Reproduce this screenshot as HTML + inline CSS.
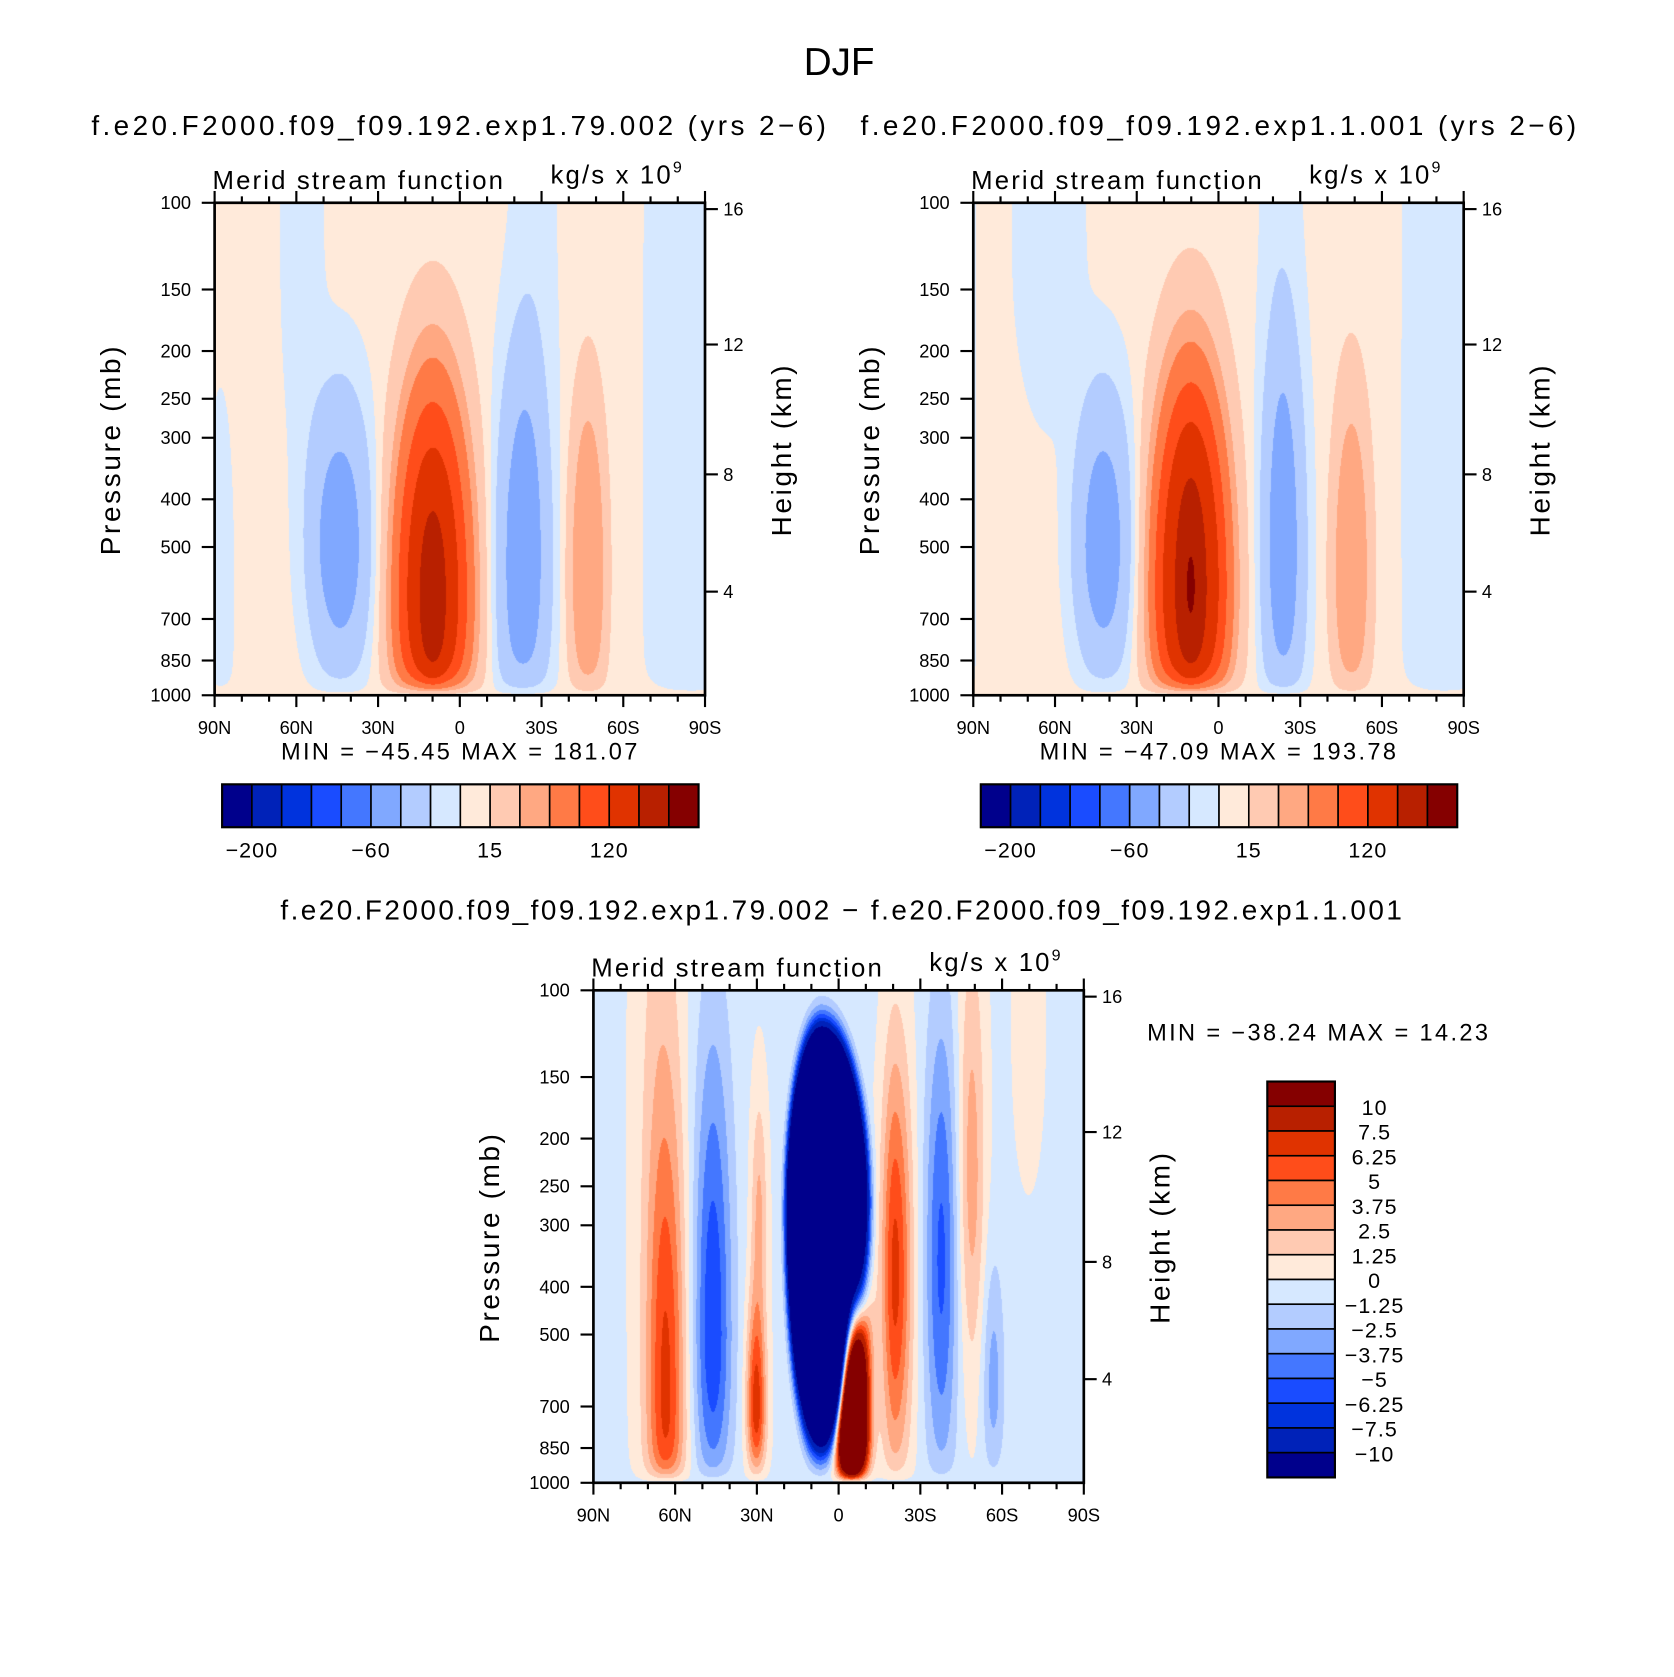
<!DOCTYPE html>
<html><head><meta charset="utf-8">
<style>
html,body{margin:0;padding:0;background:#fff;}
#wrap{position:relative;width:1674px;height:1677px;overflow:hidden;}
svg{position:absolute;left:0;top:0;}
canvas{position:absolute;}
text{font-family:"Liberation Sans",sans-serif;fill:#000;}
</style></head>
<body>
<div id="wrap">
<svg id="svg" width="1674" height="1677" viewBox="0 0 1560 1563" preserveAspectRatio="none"></svg>
</div>
<script>
// ---- data ----
const colors = ["#00008c","#0022b8","#0033dd","#1a4cff","#4477ff","#80a8ff","#b3ccff","#d6e8ff","#ffeada","#ffcab2","#ffa882","#ff7a46","#ff4d1a","#e03300","#b82000","#850000"];
const levelsAbs = [-200,-160,-120,-90,-60,-40,-15,0,15,40,60,90,120,160,200];
const levelsDiff = [-10,-7.5,-6.25,-5,-3.75,-2.5,-1.25,0,1.25,2.5,3.75,5,6.25,7.5,10];
const absTickLabels = ["−200","−60","15","120"];
const absTickIdx = [1,5,9,13];
const diffLabels = ["10","7.5","6.25","5","3.75","2.5","1.25","0","−1.25","−2.5","−3.75","−5","−6.25","−7.5","−10"];
const pressureTicks = [100,150,200,250,300,400,500,700,850,1000];
const heightTicks = [16,12,8,4];
const heightPressure = [103,194,356,616];
const latTicks = [90,60,30,0,-30,-60,-90];
const latLabels = ["90N","60N","30N","0","30S","60S","90S"];
// field cells: [lat, z(log10(1000/p)), amplitude, sxNorth, sxSouth, szUp, szDown, power]
const cells1 = [[88,0.25,-8,6,6,0.45,1,2],[58,0.9,-11,8,8,1,0.45,2],[44,0.3,-52,13,13,0.35,0.3,3],
 [10,0.2,140,16,16,0.5,0.4,3],[10,0.2,50,5,5,0.19,0.2,2],[-23,0.25,-52,11,11,0.48,0.4,3],
 [-27,0.85,-10,9,9,1,0.5,2],[-47,0.25,55,7.5,7.5,0.41,0.35,3],[-85,0.5,-14,16,16,2,2,2]];
const cells2 = [[92,0.5,-12,3,3,2,2,2],[62,0.9,-12,13,13,1,0.35,2],[42,0.3,-52,12,12,0.35,0.3,3],
 [10,0.22,150,16,16,0.5,0.4,3],[10,0.22,50,5,5,0.22,0.2,2],[-24,0.27,-50,9,9,0.5,0.4,3],
 [-23,0.85,-10,8,8,1,0.5,2],[-49,0.25,52,8,8,0.42,0.35,3],[-83,0.5,-14,14,14,2,2,2]];
const cells3 = [[63,0.15,6,7,7,0.6,0.4,2],[66,0.8,1.6,9,9,1,1,2],[46,0.3,-5.8,7,7,0.6,0.35,2],
 [30,0.15,7.5,3.5,3.5,0.22,0.15,2],[29,0.55,3,3,3,0.25,0.2,2],
 [6,0.55,-45,12,16,0.35,0.45,6],[-5,0.12,40,5,5,0.35,0.15,2],
 [-21,0.42,7,5,6,0.45,0.4,2],[-38,0.45,-5,6,6,0.5,0.45,2],[-49,0.62,3.5,5,5,0.5,0.4,2],
 [-57,0.2,-2.8,4,4,0.25,0.2,2],[-70,0.9,1.5,5,5,1,0.25,2]];
const bias1 = 4, bias2 = 4, bias3 = -0.3;

const SX = 1674/1560, SY = 1677/1563;
const svg = document.getElementById('svg');
const NS = "http://www.w3.org/2000/svg";
function mk(tag, attrs, parent){const e=document.createElementNS(NS,tag);for(const k in attrs)e.setAttribute(k,attrs[k]);(parent||svg).appendChild(e);return e;}
function txt(s,x,y,size,anchor,parent,extra){const t=mk('text',Object.assign({x:x,y:y,'font-size':size,'text-anchor':anchor||'start'},extra||{}),parent);t.textContent=s;return t;}

function fieldVal(cells,bias,lat,z){
  let s=0;
  for(const c of cells){
    const dx=lat-c[0], rx=dx/(dx>0?c[3]:c[4]);
    const dz=z-c[1], rz=dz/(dz>0?c[5]:c[6]);
    const r2=rx*rx+rz*rz;
    s+=c[2]*Math.exp(-Math.pow(r2,c[7]/2));
  }
  return s*(1-Math.exp(-z/0.025))+bias;
}
function levelIndex(v,levels){let i=0;while(i<levels.length&&v>=levels[i])i++;return i;}
function hexRGB(h){return [parseInt(h.substr(1,2),16),parseInt(h.substr(3,2),16),parseInt(h.substr(5,2),16)];}
const rgb = colors.map(hexRGB);

function panel(ox,oy,cells,bias,levels,name){
  const W=457,H=459;
  const g=mk('g',{}, svg);
  
  
  const xOf=lat=>ox+(90-lat)/180*W;
  const yOf=p=>oy+H*Math.log10(p/100);
  const cv=document.createElement('canvas');
  const cw=Math.round(W*SX), ch=Math.round(H*SY);
  cv.width=cw; cv.height=ch;
  cv.style.left=(ox*SX)+'px'; cv.style.top=(oy*SY)+'px';
  
  
  document.getElementById('wrap').insertBefore(cv, svg);
  const ctx=cv.getContext('2d'); const img=ctx.createImageData(cw,ch);
  for(let j=0;j<ch;j++){
    const z=1-(j+0.5)/ch;
    for(let i=0;i<cw;i++){
      const lat=90-(i+0.5)/cw*180;
      const k=levelIndex(fieldVal(cells,bias,lat,z),levels);
      const c=rgb[k]; const o=(j*cw+i)*4;
      img.data[o]=c[0];img.data[o+1]=c[1];img.data[o+2]=c[2];img.data[o+3]=255;
    }
  }
  ctx.putImageData(img,0,0);
  const fr=mk('rect',{x:ox,y:oy,width:W,height:H,fill:'none',stroke:'#000','stroke-width':2.5},g);
  
  for(let lat=90;lat>=-90;lat-=10){
    const x=xOf(lat), major=(lat%30===0);
    const L=major?11:6;
    mk('line',{x1:x,y1:oy+H,x2:x,y2:oy+H+L,stroke:'#000','stroke-width':2},g);
    mk('line',{x1:x,y1:oy,x2:x,y2:oy-L,stroke:'#000','stroke-width':2},g);
  }
  latTicks.forEach((lat,i)=>{
    const t=txt(latLabels[i],xOf(lat),oy+H+36,17,'middle',g);
    
    
  });
  pressureTicks.forEach(p=>{
    const y=yOf(p);
    mk('line',{x1:ox,y1:y,x2:ox-12,y2:y,stroke:'#000','stroke-width':2},g);
    const t=txt(String(p),ox-22,y+6,17,'end',g);
    
    
  });
  heightTicks.forEach((h,i)=>{
    const y=yOf(heightPressure[i]);
    mk('line',{x1:ox+W,y1:y,x2:ox+W+12,y2:y,stroke:'#000','stroke-width':2},g);
    const t=txt(String(h),ox+W+17,y+6,17,'start',g);
    
    
  });
  const yl=txt('Pressure  (mb)',0,0,26,'middle',g,{transform:`translate(${ox-88},${oy+230}) rotate(-90)`,'letter-spacing':'2.5'});
  
  const hl=txt('Height  (km)',0,0,26,'middle',g,{transform:`translate(${ox+537},${oy+230}) rotate(-90)`,'letter-spacing':'2.5'});
  
  const mt=txt('Merid  stream  function',ox-2,oy-13,24,'start',g,{'letter-spacing':'2'});
  
  const ut=txt('kg/s  x  10',ox+313,oy-18,24,'start',g,{'letter-spacing':'2'});
  
  const sup=mk('tspan',{'font-size':15,dy:-10},ut); sup.textContent='9';
  return g;
}
function hcolorbar(x0,y0,prefix){
  const w=444/16;
  colors.forEach((c,i)=>{
    const r=mk('rect',{x:x0+i*w,y:y0,width:w,height:40,fill:c,stroke:'#000','stroke-width':1.5});
    
    
  });
  mk('rect',{x:x0,y:y0,width:444,height:40,fill:'none',stroke:'#000','stroke-width':2});
  absTickIdx.forEach((k,i)=>{
    const t=txt(absTickLabels[i],x0+k*w,y0+68,20,'middle',null,{'letter-spacing':'1'});
    
    
  });
}

let t=txt('DJF',782,70,36,'middle');  
t=txt('f.e20.F2000.f09_f09.192.exp1.79.002 (yrs 2−6)',429,126,26,'middle',null,{'letter-spacing':'3.2'});  
t=txt('f.e20.F2000.f09_f09.192.exp1.1.001 (yrs 2−6)',1137,126,26,'middle',null,{'letter-spacing':'3.2'});  
t=txt('f.e20.F2000.f09_f09.192.exp1.79.002 − f.e20.F2000.f09_f09.192.exp1.1.001',785,857,26,'middle',null,{'letter-spacing':'2.3'});  

panel(200,189,cells1,bias1,levelsAbs,'left-panel');
panel(907,189,cells2,bias2,levelsAbs,'right-panel');
panel(553,923,cells3,bias3,levelsDiff,'difference-panel');

t=txt('MIN  =  −45.45    MAX  =  181.07',429,708,22,'middle',null,{'letter-spacing':'2.2'});  
t=txt('MIN  =  −47.09    MAX  =  193.78',1136,708,22,'middle',null,{'letter-spacing':'2.2'});  
t=txt('MIN  =  −38.24    MAX  =    14.23',1069,970,22,'start',null,{'letter-spacing':'2.2'});  
hcolorbar(207,731,'left');
hcolorbar(914,731,'right');

const vh=369/16;
colors.slice().reverse().forEach((c,i)=>{
  const r=mk('rect',{x:1181,y:1008+i*vh,width:63,height:vh,fill:c,stroke:'#000','stroke-width':1.5});
  
  
});
mk('rect',{x:1181,y:1008,width:63,height:369,fill:'none',stroke:'#000','stroke-width':2});
diffLabels.forEach((s,i)=>{
  const tt=txt(s,1281,1008+(i+1)*vh+8,20,'middle',null,{'letter-spacing':'1'});
  
  
});
</script>
</body></html>
